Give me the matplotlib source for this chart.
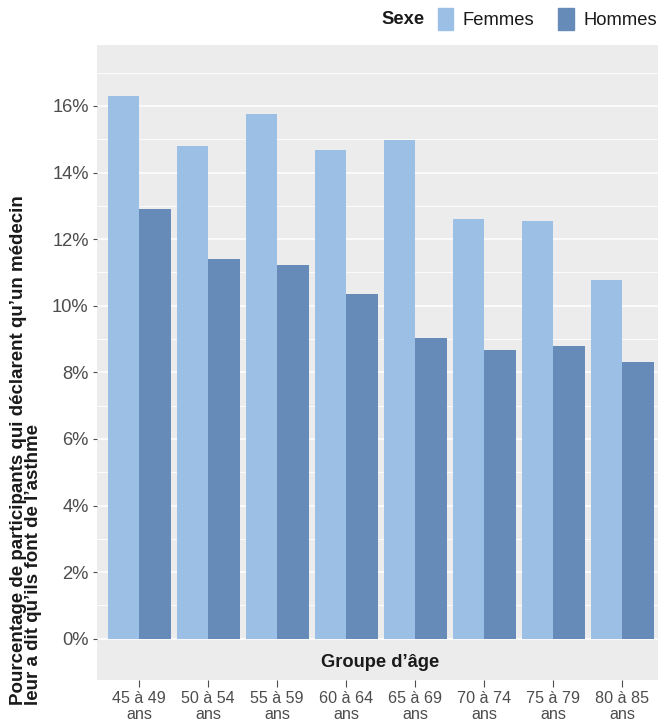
import matplotlib
matplotlib.use("Agg")
import matplotlib.pyplot as plt
from matplotlib import font_manager
from matplotlib.patches import Patch
from matplotlib.transforms import blended_transform_factory
import numpy as np

names = {f.name for f in font_manager.fontManager.ttflist}
fam = "Liberation Sans Narrow" if "Liberation Sans Narrow" in names else "Liberation Sans"
narrow = fam == "Liberation Sans Narrow"
k = 1.0 if narrow else 0.83  # shrink sizes when no condensed face is present
plt.rcParams['font.family'] = [fam, 'DejaVu Sans']

groupes = ["45 à 49\nans", "50 à 54\nans", "55 à 59\nans", "60 à 64\nans",
           "65 à 69\nans", "70 à 74\nans", "75 à 79\nans", "80 à 85\nans"]
femmes = [16.3, 14.8, 15.76, 14.68, 14.98, 12.6, 12.54, 10.77]
hommes = [12.9, 11.4, 11.22, 10.35, 9.02, 8.66, 8.78, 8.3]

c_f = "#9bbfe5"
c_h = "#678bb8"

fig = plt.figure(figsize=(6.58, 7.28), dpi=100)
ax = fig.add_axes([97/658, 48/728, 1 - 97/658, (680 - 45)/728])
ax.set_facecolor("#ebeceb")

x = np.arange(1, len(groupes) + 1)
w = 0.457
ax.bar(x - w/2, femmes, width=w, color=c_f, zorder=3)
ax.bar(x + w/2, hommes, width=w, color=c_h, zorder=3)

ax.set_xlim(0.39, 8.52)
ax.set_ylim(-1.24, 17.83)
ax.set_yticks(range(0, 17, 2))
ax.set_yticklabels([f"{v}%" for v in range(0, 17, 2)])
ax.set_yticks(range(1, 18, 2), minor=True)
ax.grid(True, which="major", axis="y", color="white", linewidth=1.1, zorder=0)
ax.grid(True, which="minor", axis="y", color="white", linewidth=0.6, zorder=0)
ax.set_xticks(x)
ax.set_xticklabels(groupes, linespacing=1.05)
for s in ax.spines.values():
    s.set_visible(False)
ax.tick_params(axis="y", which="major", length=3, color="#4d4d4d", labelsize=16*k,
               labelcolor="#4d4d4d", pad=3)
ax.tick_params(axis="y", which="minor", length=0)
ax.tick_params(axis="x", length=5, color="#4d4d4d", labelsize=14*k, labelcolor="#4d4d4d", pad=3)

tr = blended_transform_factory(ax.transData, ax.transData)
ax.text(4.5, -0.7, "Groupe d\u2019âge", transform=tr, ha="center", va="center",
        fontsize=16*k, fontweight="bold", color="#1a1a1a")

fig.text(26/658, 23/728,
         "Pourcentage de participants qui déclarent qu\u2019un médecin\nleur a dit qu\u2019ils font de l\u2019asthme",
         rotation=90, ha="center", va="bottom", multialignment="left",
         fontsize=16.3*k, fontweight="bold", color="#1a1a1a", linespacing=0.85)

handles = [Patch(color=c_f, label="Femmes"), Patch(color=c_h, label="Hommes")]
leg = fig.legend(handles=handles, loc="center left", bbox_to_anchor=(434/658, 1 - 19/728), ncol=2,
                 frameon=False, fontsize=16*k, handlelength=0.85, handleheight=1.5,
                 handletextpad=0.5, columnspacing=1.3, borderaxespad=0.0, borderpad=0.2)
for t in leg.get_texts():
    t.set_color("#1a1a1a")
fig.text(381/658, 1 - 19/728, "Sexe", ha="left", va="center", fontsize=16*k,
         fontweight="bold", color="#1a1a1a")

fig.savefig("out.png", dpi=100)
